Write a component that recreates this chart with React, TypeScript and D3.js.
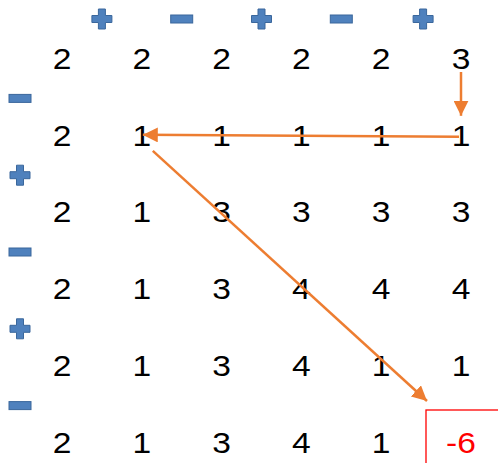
import React from "react";
import * as d3 from "d3";

// grid of values, last cell is the answer
const gridRows: number[][] = [
  [2, 2, 2, 2, 2, 3],
  [2, 1, 1, 1, 1, 1],
  [2, 1, 3, 3, 3, 3],
  [2, 1, 3, 4, 4, 4],
  [2, 1, 3, 4, 1, 1],
  [2, 1, 3, 4, 1, -6],
];
const topSigns = ["+", "-", "+", "-", "+"];
const leftSigns = ["-", "+", "-", "+", "-"];
// arrows: [fromRow, fromCol, toRow, toCol]
const arrows: [number, number, number, number][] = [
  [0, 5, 1, 5],
  [1, 5, 1, 1],
  [1, 1, 5, 5],
];
const resultCell = [5, 5];

const W = 498, H = 463;
const ORANGE = "#ed7d31";
const BLUE = "#4f81bd";
const BLUE_DARK = "#3a679c";

function Sign({ kind, x, y }: { kind: string; x: number; y: number }) {
  if (kind === "-") {
    return <rect x={x - 11} y={y - 4} width={22} height={8} fill={BLUE} stroke={BLUE_DARK} strokeWidth={1} />;
  }
  const a = 10, t = 3.5;
  const p = [
    [-t, -a], [t, -a], [t, -t], [a, -t], [a, t], [t, t], [t, a], [-t, a], [-t, t], [-a, t], [-a, -t], [-t, -t],
  ].map(([dx, dy]) => `${x + dx},${y + dy}`).join(" ");
  return <polygon points={p} fill={BLUE} stroke={BLUE_DARK} strokeWidth={1} />;
}

export default function App() {
  const idx = d3.range(6);
  const x = d3.scalePoint<number>().domain(idx).range([62, 461]);
  const y = d3.scalePoint<number>().domain(idx).range([58, 442]);
  const stepX = x.step(), stepY = y.step();

  const arrowEnds = (a: [number, number, number, number], i: number) => {
    const [r0, c0, r1, c1] = a;
    if (i === 0) return [x(c0)!, y(r0)! + 14, x(c1)!, y(r1)! - 19];
    if (i === 1) return [x(c0)! - 2, y(r0)! + 2, x(c1)! + 1, y(r1)!];
    return [x(c0)! + 11, y(r0)! + 16, x(c1)! - 34, y(r1)! - 41];
  };

  return (
    <svg width={W} height={H} style={{ position: "absolute", left: 0, top: 0, background: "#fff" }}>
      <defs>
        <marker id="ah" viewBox="0 0 10 10" refX={10} refY={5} markerWidth={6} markerHeight={6}
          markerUnits="strokeWidth" orient="auto">
          <path d="M0,0 L10,5 L0,10 z" fill={ORANGE} />
        </marker>
      </defs>
      {topSigns.map((s, i) => (
        <Sign key={"t" + i} kind={s} x={x(i)! + stepX / 2 + (i === 4 ? 2 : 0)} y={19} />
      ))}
      {leftSigns.map((s, i) => (
        <Sign key={"l" + i} kind={s} x={20} y={y(i)! + stepY / 2 + 2} />
      ))}
      {gridRows.map((row, r) =>
        row.map((v, c) => {
          const isRes = r === resultCell[0] && c === resultCell[1];
          return (
            <text key={r + "-" + c} transform={`translate(${x(c)},${y(r)}) scale(1.12,1)`} dy="0.36em"
              textAnchor="middle" fontFamily="'Liberation Sans', Arial, sans-serif" fontSize={30}
              fill={isRes ? "#ff0000" : "#000"}>
              {v}
            </text>
          );
        })
      )}
      <rect x={x(resultCell[1])! - 35} y={y(resultCell[0])! - 32} width={100} height={80}
        fill="none" stroke="#ff0000" strokeWidth={1.3} />
      {arrows.map((a, i) => {
        const [x1, y1, x2, y2] = arrowEnds(a, i);
        return (
          <line key={"a" + i} x1={x1} y1={y1} x2={x2} y2={y2} stroke={ORANGE} strokeWidth={2.5}
            markerEnd="url(#ah)" />
        );
      })}
    </svg>
  );
}
